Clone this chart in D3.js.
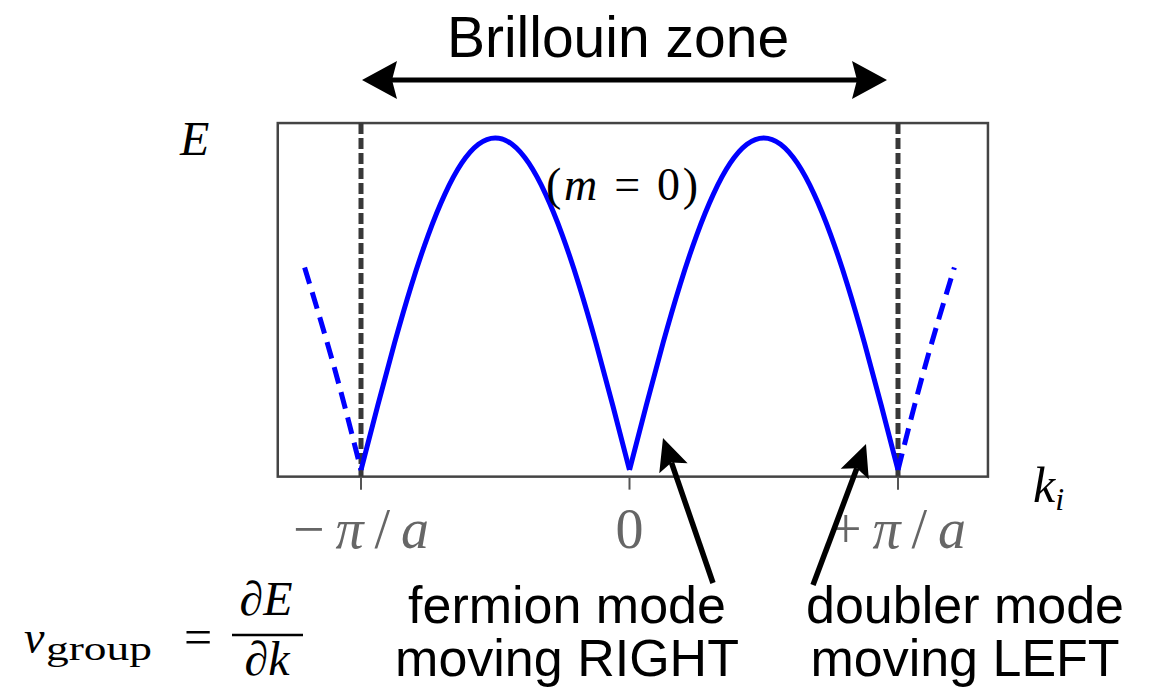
<!DOCTYPE html>
<html>
<head>
<meta charset="utf-8">
<script src="https://cdn.jsdelivr.net/npm/d3@7"></script>
<style>
  body { margin: 0; background: #fff; }
  svg { display: block; }
</style>
</head>
<body>
<svg id="chart"></svg>
<script>
// band E(k), k in units of pi/a, E normalised to the peak
const bandK = [-1, -0.9375, -0.875, -0.8125, -0.75, -0.6875, -0.625, -0.5625, -0.5,
               -0.4375, -0.375, -0.3125, -0.25, -0.1875, -0.125, -0.0625, 0,
               0.0625, 0.125, 0.1875, 0.25, 0.3125, 0.375, 0.4375, 0.5,
               0.5625, 0.625, 0.6875, 0.75, 0.8125, 0.875, 0.9375, 1];
const bandE = [0, 0.195, 0.383, 0.556, 0.707, 0.831, 0.924, 0.981, 1,
               0.981, 0.924, 0.831, 0.707, 0.556, 0.383, 0.195, 0,
               0.195, 0.383, 0.556, 0.707, 0.831, 0.924, 0.981, 1,
               0.981, 0.924, 0.831, 0.707, 0.556, 0.383, 0.195, 0];

// continuation outside the zone (dashed)
const leftExtK = [-1.21, -1.1, -1];
const leftExtE = [0.61, 0.31, 0];
const rightExtK = [1, 1.1, 1.21];
const rightExtE = [0, 0.31, 0.61];

const zoneEdges = [-1, 1];
const tickK = [-1, 0, 1];
const tickLabels = [["−", "π", "/", "a"], ["0"], ["+", "π", "/", "a"]];

const width = 1149, height = 693;
const serif = "'Liberation Serif', 'DejaVu Serif', serif";
const sans = "'Liberation Sans', Arial, sans-serif";

const svg = d3.select('#chart')
    .attr('width', width)
    .attr('height', height);

const x = d3.scaleLinear().domain([-1, 1]).range([361, 898]);
const y = d3.scaleLinear().domain([0, 1]).range([470, 138]);

// plot frame
const boxK = [-1.31, 1.335];
const boxE = [-0.02, 1.045];

svg.append('rect')
    .attr('x', x(boxK[0]))
    .attr('y', y(boxE[1]))
    .attr('width', x(boxK[1]) - x(boxK[0]))
    .attr('height', y(boxE[0]) - y(boxE[1]))
    .attr('fill', 'none')
    .attr('stroke', '#444')
    .attr('stroke-width', 2.5);

// zone boundaries
svg.selectAll('line.edge')
    .data(zoneEdges)
    .join('line')
    .attr('class', 'edge')
    .attr('x1', d => x(d)).attr('x2', d => x(d))
    .attr('y1', y(boxE[1])).attr('y2', y(boxE[0]))
    .attr('stroke', '#383838')
    .attr('stroke-width', 5)
    .attr('stroke-dasharray', '11,4');

// ticks below the frame
svg.selectAll('line.tick')
    .data(tickK)
    .join('line')
    .attr('class', 'tick')
    .attr('x1', d => x(d)).attr('x2', d => x(d))
    .attr('y1', y(boxE[0])).attr('y2', y(boxE[0]) + 13)
    .attr('stroke', '#555')
    .attr('stroke-width', 2);

const tl = svg.selectAll('text.ticklabel')
    .data(tickK)
    .join('text')
    .attr('class', 'ticklabel')
    .attr('x', d => x(d))
    .attr('y', 548)
    .attr('text-anchor', 'middle')
    .attr('font-family', serif)
    .attr('font-size', 56)
    .attr('fill', '#666');
tl.each(function(d, i) {
    const t = d3.select(this);
    const parts = tickLabels[i];
    if (parts.length > 1) t.attr('textLength', 136).attr('lengthAdjust', 'spacing');
    parts.forEach(p => {
        t.append('tspan')
            .attr('font-style', (p === 'π' || p === 'a') ? 'italic' : 'normal')
            .text(p);
    });
});

// band curve, one path per arch so the cusps stay sharp
const pts = bandK.map((k, i) => ({k: k, e: bandE[i]}));
const arches = [];
let cur = [];
pts.forEach((p, i) => {
    cur.push(p);
    if (p.e === 0 && cur.length > 1) {
        arches.push(cur);
        cur = [p];
    }
});

const line = d3.line()
    .x(d => x(d.k))
    .y(d => y(d.e))
    .curve(d3.curveNatural);

svg.selectAll('path.arch')
    .data(arches)
    .join('path')
    .attr('class', 'arch')
    .attr('d', line)
    .attr('fill', 'none')
    .attr('stroke', '#0000ff')
    .attr('stroke-width', 5)
    .attr('stroke-linejoin', 'round');

const ext = [
    leftExtK.map((k, i) => ({k: k, e: leftExtE[i]})),
    rightExtK.map((k, i) => ({k: k, e: rightExtE[i]}))
];
svg.selectAll('path.ext')
    .data(ext)
    .join('path')
    .attr('class', 'ext')
    .attr('d', line)
    .attr('fill', 'none')
    .attr('stroke', '#0000ff')
    .attr('stroke-width', 5)
    .attr('stroke-dasharray', '17,9');

// axis labels
svg.append('text')
    .attr('x', 180).attr('y', 155)
    .attr('font-family', serif)
    .attr('font-style', 'italic')
    .attr('font-size', 48)
    .text('E');

const ki = svg.append('text')
    .attr('x', 1033).attr('y', 502)
    .attr('font-family', serif)
    .attr('font-style', 'italic')
    .attr('font-size', 50);
ki.append('tspan').text('k');
ki.append('tspan').attr('font-size', 32).attr('dy', 8).text('i');

const mlab = svg.append('text')
    .attr('x', 622).attr('y', 200)
    .attr('text-anchor', 'middle')
    .attr('font-family', serif)
    .attr('font-size', 46)
    .attr('textLength', 152)
    .attr('lengthAdjust', 'spacing');
mlab.append('tspan').text('(');
mlab.append('tspan').attr('font-style', 'italic').text('m');
mlab.append('tspan').text(' = 0)');

// Brillouin zone arrow
svg.append('text')
    .attr('x', 618).attr('y', 57)
    .attr('text-anchor', 'middle')
    .attr('font-family', sans)
    .attr('font-size', 57)
    .text('Brillouin zone');

const bzL = 362, bzR = 887, bzY = 80;
svg.append('line')
    .attr('x1', bzL + 20).attr('x2', bzR - 20)
    .attr('y1', bzY).attr('y2', bzY)
    .attr('stroke', '#000')
    .attr('stroke-width', 5);
svg.append('path')
    .attr('d', `M${bzL},${bzY} L${bzL + 35},${bzY - 19} L${bzL + 30},${bzY} L${bzL + 35},${bzY + 19} Z`)
    .attr('fill', '#000');
svg.append('path')
    .attr('d', `M${bzR},${bzY} L${bzR - 35},${bzY - 19} L${bzR - 30},${bzY} L${bzR - 35},${bzY + 19} Z`)
    .attr('fill', '#000');

// pointer arrows
function arrow(x1, y1, x2, y2) {
    const ang = Math.atan2(y2 - y1, x2 - x1);
    const hl = 32, hw = 15;
    const bx = x2 - hl * Math.cos(ang), by = y2 - hl * Math.sin(ang);
    const nx = -Math.sin(ang), ny = Math.cos(ang);
    const notch = 6;
    const mx = x2 - (hl - notch) * Math.cos(ang), my = y2 - (hl - notch) * Math.sin(ang);
    svg.append('line')
        .attr('x1', x1).attr('y1', y1)
        .attr('x2', mx).attr('y2', my)
        .attr('stroke', '#000')
        .attr('stroke-width', 5.5);
    svg.append('path')
        .attr('d', `M${x2},${y2} L${bx + nx * hw},${by + ny * hw} L${mx},${my} L${bx - nx * hw},${by - ny * hw} Z`)
        .attr('fill', '#000');
}
arrow(713, 583, 663, 438);
arrow(813, 585, 866, 444);

// mode captions
const cap = [
    {x: 567, lines: ['fermion mode', 'moving RIGHT']},
    {x: 965, lines: ['doubler mode', 'moving LEFT']}
];
cap.forEach(c => {
    c.lines.forEach((s, i) => {
        svg.append('text')
            .attr('x', c.x).attr('y', 623 + i * 53)
            .attr('text-anchor', 'middle')
            .attr('font-family', sans)
            .attr('font-size', 52)
            .text(s);
    });
});

// group velocity formula
svg.append('text')
    .attr('x', 24).attr('y', 653)
    .attr('font-family', serif)
    .attr('font-style', 'italic')
    .attr('font-size', 46)
    .text('v');

svg.append('text')
    .attr('x', 46).attr('y', 660)
    .attr('font-family', serif)
    .attr('font-size', 34)
    .attr('textLength', 106)
    .attr('lengthAdjust', 'spacingAndGlyphs')
    .text('group');

svg.append('text')
    .attr('x', 198).attr('y', 654)
    .attr('text-anchor', 'middle')
    .attr('font-family', serif)
    .attr('font-size', 50)
    .text('=');

svg.append('line')
    .attr('x1', 232).attr('x2', 303)
    .attr('y1', 635).attr('y2', 635)
    .attr('stroke', '#000')
    .attr('stroke-width', 2.5);

svg.append('text')
    .attr('x', 266).attr('y', 615)
    .attr('text-anchor', 'middle')
    .attr('font-family', serif)
    .attr('font-style', 'italic')
    .attr('font-size', 48)
    .text('∂E');

svg.append('text')
    .attr('x', 267).attr('y', 675)
    .attr('text-anchor', 'middle')
    .attr('font-family', serif)
    .attr('font-style', 'italic')
    .attr('font-size', 48)
    .text('∂k');
</script>
</body>
</html>
